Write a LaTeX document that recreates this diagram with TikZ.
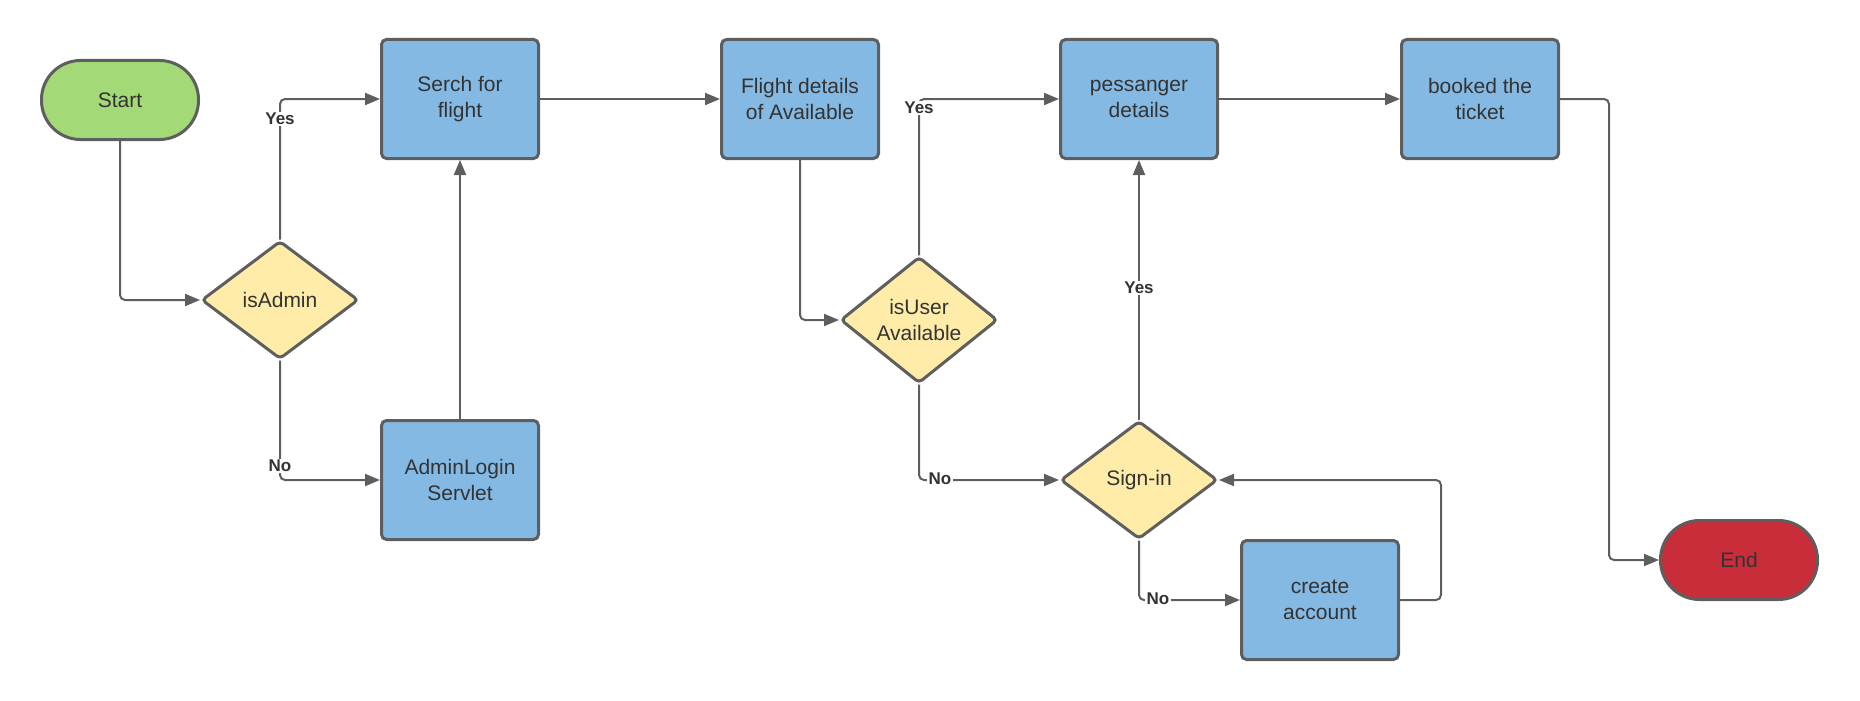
\documentclass[tikz,border=0pt]{standalone}
\usepackage{fontspec}
\setmainfont{Liberation Sans}
\usetikzlibrary{shapes.geometric,arrows.meta}
\definecolor{lineC}{HTML}{5E5E5E}
\definecolor{txtC}{HTML}{333333}
\definecolor{startC}{HTML}{A3D977}
\definecolor{boxC}{HTML}{83B9E3}
\definecolor{decC}{HTML}{FFECA9}
\definecolor{endC}{HTML}{C92D39}
\tikzset{
  base/.style={draw=lineC, line width=3pt, text=txtC, font=\fontsize{21}{26}\selectfont, align=center, inner sep=0pt},
  procbox/.style={base, fill=boxC, rounded corners=5pt, minimum width=157pt, minimum height=119pt},
  termbox/.style={base, minimum width=157pt, minimum height=79pt, rounded corners=39pt},
  decbox/.style={base, fill=decC, shape=diamond, minimum width=157pt, minimum height=118pt, rounded corners=4pt},
  conn/.style={draw=lineC, line width=2pt, rounded corners=5pt, -{Triangle[length=15pt,width=12pt]}},
  lbl/.style={fill=white, text=txtC, font=\bfseries\fontsize{17}{20}\selectfont, inner sep=1.5pt}
}
\begin{document}
\begin{tikzpicture}[x=1pt,y=-1pt]
\useasboundingbox (0,0) rectangle (1860,701);
% nodes
\node[termbox, fill=startC] (start) at (120,100) {Start};
\node[procbox] (search) at (460,99) {Serch for\\flight};
\node[procbox] (flight) at (800,99) {Flight details\\of Available};
\node[procbox] (pass) at (1139,99) {pessanger\\details};
\node[procbox] (booked) at (1480,99) {booked the\\ticket};
\node[decbox] (isadmin) at (280,300) {isAdmin};
\node[procbox] (admin) at (460,480) {AdminLogin\\Servlet};
\node[decbox] (isuser) at (919,320) {isUser\\Available};
\node[decbox] (signin) at (1139,480) {Sign-in};
\node[procbox] (create) at (1320,600) {create\\account};
\node[termbox, fill=endC] (end) at (1739,560) {End};
% connectors
\draw[conn] (start.south) |- (isadmin.west);
\draw[conn] (isadmin.north) |- (search.west);
\draw[conn] (isadmin.south) |- (admin.west);
\draw[conn] (admin.north) -- (search.south);
\draw[conn] (search.east) -- (flight.west);
\draw[conn] (flight.south) |- (isuser.west);
\draw[conn] (isuser.north) |- (pass.west);
\draw[conn] (isuser.south) |- (signin.west);
\draw[conn] (signin.north) -- (pass.south);
\draw[conn] (signin.south) |- (create.west);
\coordinate (loopR) at (1441,600);
\draw[conn] (create.east) -- (loopR) |- (signin.east);
\draw[conn] (pass.east) -- (booked.west);
\coordinate (endR) at (1609,99);
\draw[conn] (booked.east) -- (endR) |- (end.west);
% labels
\node[lbl] (l1) at (280,119) {Yes};
\node[lbl] (l2) at (280,466) {No};
\node[lbl] (l3) at (919,108) {Yes};
\node[lbl] (l4) at (940,479) {No};
\node[lbl] (l5) at (1139,288) {Yes};
\node[lbl] (l6) at (1158,599) {No};
\end{tikzpicture}
\end{document}
